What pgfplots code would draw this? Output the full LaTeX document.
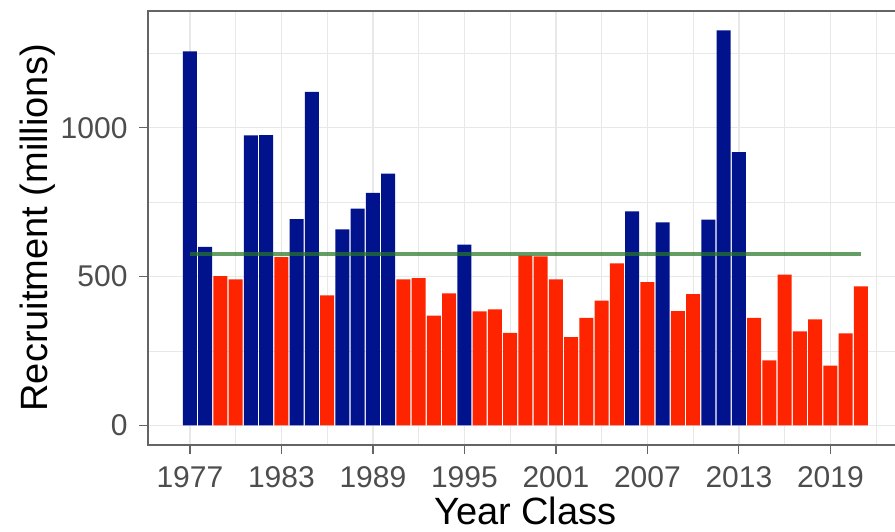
\documentclass[border=0pt]{standalone}
\usepackage{pgfplots}
\pgfplotsset{compat=1.18}
\usepackage{fontspec}
\setmainfont{Liberation Sans}

\definecolor{barblue}{RGB}{0,18,140}
\definecolor{barred}{RGB}{255,36,0}
\definecolor{meangreen}{RGB}{40,120,40}
\definecolor{gridgray}{RGB}{232,232,232}
\definecolor{framegray}{RGB}{100,100,100}
\definecolor{ticktext}{RGB}{77,77,77}

\begin{document}
\begin{tikzpicture}
\begin{axis}[
    at={(0,0)}, anchor=south west,
    scale only axis,
    width=754.8pt, height=434.3pt,
    xmin=1974.25, xmax=2023.75,
    ymin=-66, ymax=1393,
    xtick={1977,1983,1989,1995,2001,2007,2013,2019},
    minor xtick={1980,1986,1992,1998,2004,2010,2016,2022},
    ytick={0,500,1000},
    minor ytick={250,750,1250},
    grid=both,
    major grid style={gridgray, line width=1.4pt},
    minor grid style={gridgray, line width=0.8pt},
    tick pos=left,
    tick align=outside,
    major tick length=9pt,
    minor tick length=0pt,
    tick style={framegray, line width=1.2pt},
    axis line style={framegray, line width=1.6pt},
    /pgf/number format/1000 sep={},
    /pgf/number format/assume math mode=true,
    ticklabel style={font=\fontsize{30}{32}\selectfont, text=ticktext},
    xticklabel style={yshift=-9pt},
    yticklabel style={xshift=-8pt},
    xlabel={Year Class},
    ylabel={Recruitment (millions)},
    label style={font=\fontsize{38}{40}\selectfont, text=black},
    xlabel style={at={([yshift=-66pt]axis description cs:0.5,0)}, anchor=center},
    ylabel style={at={([xshift=-110pt]axis description cs:0,0.5)}, anchor=center},
]
% years above the mean
\addplot[ybar, bar width=0.92, bar shift=0pt, fill=barblue, draw=none] coordinates {
    (1977,1256) (1978,600) (1981,974) (1982,975) (1984,693) (1985,1120)
    (1987,658) (1988,728) (1989,781) (1990,846) (1995,607) (2006,719)
    (2008,682) (2011,691) (2012,1327) (2013,918)
};
% years below the mean
\addplot[ybar, bar width=0.92, bar shift=0pt, fill=barred, draw=none] coordinates {
    (1979,501) (1980,490) (1983,565) (1986,437) (1991,490) (1992,495)
    (1993,369) (1994,443) (1996,383) (1997,390) (1998,311) (1999,570)
    (2000,568) (2001,490) (2002,296) (2003,361) (2004,419) (2005,544)
    (2007,481) (2009,384) (2010,441) (2014,361) (2015,218) (2016,506)
    (2017,316) (2018,356) (2019,201) (2020,309) (2021,467)
};
% mean recruitment
\addplot[meangreen, opacity=0.72, line width=4pt] coordinates {(1977,575) (2021,575)};
\end{axis}
\pgfresetboundingbox
\path[use as bounding box] (-148pt,-86pt) rectangle (747pt,445pt);
\end{tikzpicture}
\end{document}
